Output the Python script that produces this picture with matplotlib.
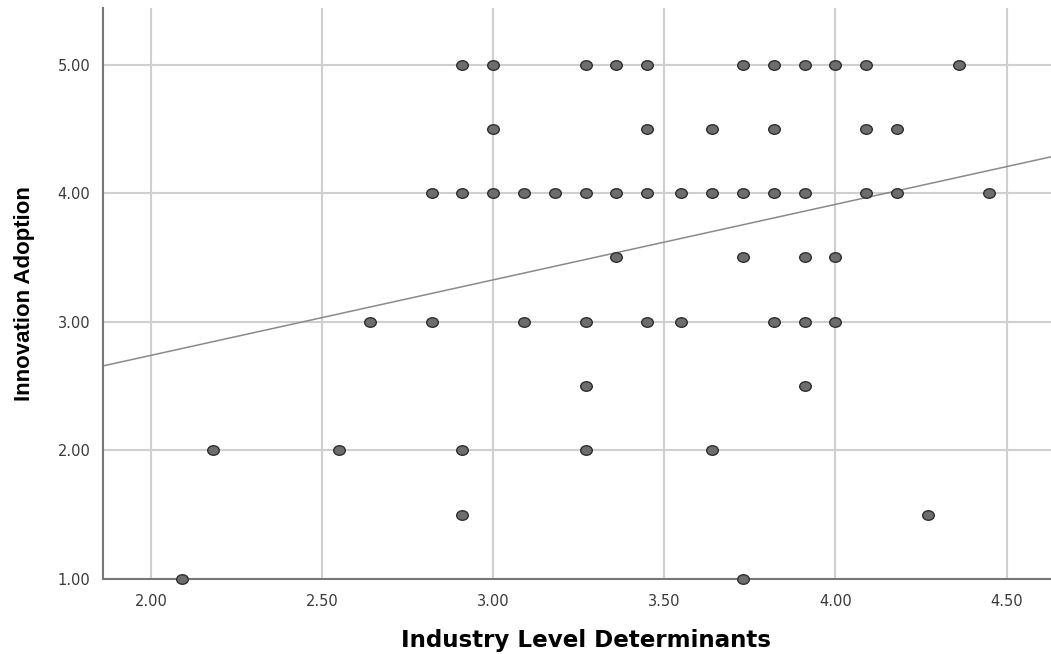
import matplotlib
matplotlib.use("Agg")
import matplotlib.pyplot as plt
from matplotlib.path import Path
from matplotlib.transforms import Affine2D
import numpy as np

# Data (x values are multiples of 1/11)
x_vals = [2.91, 3.00, 3.27, 3.36, 3.45, 3.73, 3.82, 3.91, 4.00, 4.09, 4.36,
          3.00, 3.45, 3.64, 3.82, 4.09, 4.18,
          2.82, 2.91, 3.00, 3.09, 3.18, 3.27, 3.36, 3.45, 3.55, 3.64, 3.73, 3.82, 3.91, 4.09, 4.18, 4.45,
          3.36, 3.73, 3.91, 4.00,
          2.64, 2.82, 3.09, 3.27, 3.45, 3.55, 3.82, 3.91, 4.00,
          3.27, 3.91,
          2.18, 2.55, 2.91, 3.27, 3.64,
          2.91, 4.27,
          2.09, 3.73]
y_vals = [5.0] * 11 + [4.5] * 6 + [4.0] * 16 + [3.5] * 4 + [3.0] * 9 + [2.5] * 2 + [2.0] * 5 + [1.5] * 2 + [1.0] * 2

fit_intercept = 1.565
fit_slope = 0.587

x_ticks = [2.0, 2.5, 3.0, 3.5, 4.0, 4.5]
y_ticks = [1.0, 2.0, 3.0, 4.0, 5.0]
x_label = "Industry Level Determinants"
y_label = "Innovation Adoption"

plt.rcParams['font.family'] = ['DejaVu Sans']

fig = plt.figure(figsize=(10.51, 6.54), dpi=100)
ax = fig.add_axes([103 / 1051, 1 - 579 / 654, 1 - 103 / 1051, (579 - 8) / 654])

xmin, xmax = 1.86, 4.63
ymin, ymax = 1.0, 5.44
ax.set_xlim(xmin, xmax)
ax.set_ylim(ymin, ymax)

ax.set_xticks(x_ticks)
ax.set_yticks(y_ticks)
ax.set_xticklabels([f"{v:.2f}" for v in x_ticks])
ax.set_yticklabels([f"{v:.2f}" for v in y_ticks])
ax.tick_params(axis='both', length=0, labelsize=10.5, colors='#3a3a3a')
ax.tick_params(axis='y', pad=9)
ax.tick_params(axis='x', pad=11)

ax.grid(True, color='#cfcfcf', linewidth=1.5)
ax.set_axisbelow(True)

for s in ['top', 'right']:
    ax.spines[s].set_visible(False)
for s in ['left', 'bottom']:
    ax.spines[s].set_color('#777777')
    ax.spines[s].set_linewidth(1.5)

xl = np.array([xmin, xmax])
ax.plot(xl, fit_intercept + fit_slope * xl, color='#8a8a8a', linewidth=1.1, zorder=2)

ellipse = Path.unit_circle().transformed(Affine2D().scale(1.0, 0.82))
ax.scatter(x_vals, y_vals, s=70, marker=ellipse, facecolor='#6d6d6d', edgecolor='#2e2e2e',
           linewidth=1.0, zorder=3, clip_on=False)

ax.set_xlabel(x_label, fontsize=16.6, fontweight='bold', labelpad=14,
              family=['DejaVu Sans'])
ax.xaxis.label.set_x((586 - 103) / (1051 - 103))
ax.set_ylabel(y_label, fontsize=16, fontweight='bold', labelpad=16,
              family=['Liberation Sans', 'DejaVu Sans'])

fig.savefig("out.png", dpi=100)
